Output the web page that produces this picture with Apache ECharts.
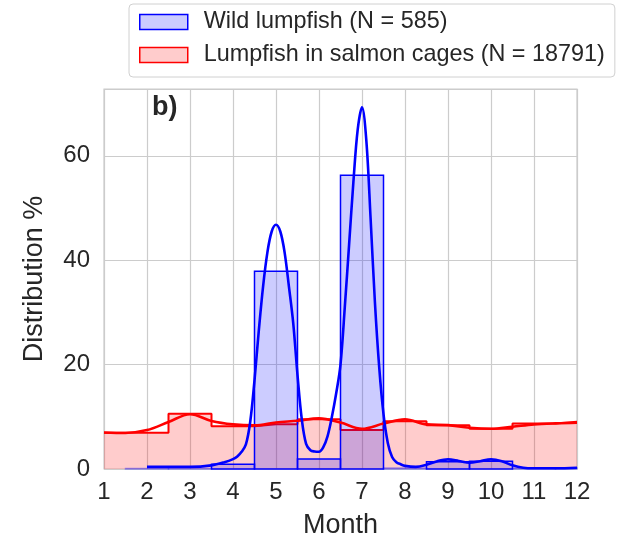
<!DOCTYPE html>
<html>
<head>
<meta charset="UTF-8">
<title>Lumpfish by month</title>
<script src="https://cdn.jsdelivr.net/npm/echarts@6/dist/echarts.min.js"></script>
<style>
  html, body { margin: 0; padding: 0; background: #fff; }
  #main { width: 633px; height: 542px; }
</style>
</head>
<body>
<div id="main"></div>
<script type="text/javascript">
// histogram bins (month, % of fish)
var wildBinMonths = [2, 3, 4, 5, 6, 7, 8, 9, 10, 11, 12];
var wildBinPct = [0.1, 0.1, 0.9, 37.9, 1.9, 56.3, 0.2, 1.4, 1.5, 0.2, 0.2];
var cageBinMonths = [1, 2, 3, 4, 5, 6, 7, 8, 9, 10, 11, 12];
var cageBinPct = [6.95, 6.95, 10.6, 8.2, 8.55, 9.55, 7.45, 9.15, 8.4, 7.7, 8.7, 9.05];

// kde curves
var wildKdeX = [2, 2.5, 3, 3.5, 3.8, 4, 4.1, 4.2, 4.3, 4.4, 4.5, 4.6, 4.7, 4.8, 4.9, 5, 5.1, 5.2, 5.3, 5.4, 5.5, 5.6, 5.7, 5.8, 5.9, 6,
  6.1, 6.2, 6.3, 6.4, 6.5, 6.6, 6.7, 6.8, 6.9, 7, 7.1, 7.2, 7.3, 7.4, 7.5, 7.6, 7.7, 7.8, 7.9, 8,
  8.25, 8.5, 8.75, 9, 9.25, 9.5, 9.75, 10, 10.25, 10.5, 10.75, 11, 11.5, 12];
var wildKdeY = [0.4, 0.4, 0.4, 0.7, 1.3, 1.9, 2.4, 3.3, 4.7, 9, 17, 26.5, 35, 41.5, 45.5, 46.8, 45.5, 41.5, 35, 28, 18, 9.5, 4.8, 3.6, 3.35, 3.3,
  4.2, 6.3, 10, 14.5, 20, 31, 43, 55, 65, 69.3, 63, 48, 32, 19.5, 10.5, 5, 2.3, 1.3, 0.9, 0.6,
  0.4, 0.8, 1.5, 1.85, 1.55, 1.2, 1.5, 1.85, 1.5, 0.7, 0.25, 0.15, 0.15, 0.25];
var cageKdeX = [1, 1.5, 2, 2.5, 3, 3.5, 4, 4.5, 5, 5.5, 6, 6.5, 7, 7.5, 8, 8.5, 9, 9.5, 10, 10.5, 11, 11.5, 12];
var cageKdeY = [7.0, 6.9, 7.45, 9.0, 10.5, 9.2, 8.55, 8.35, 8.9, 9.25, 9.7, 8.9, 7.7, 8.7, 9.5, 8.55, 8.4, 7.9, 7.7, 8.1, 8.55, 8.75, 8.85];

var yTicks = [0, 20, 40, 60];

var wildName = 'Wild lumpfish (N = 585)';
var cageName = 'Lumpfish in salmon cages (N = 18791)';
var font = "'Liberation Sans', Arial, sans-serif";

function pairs(xs, ys) {
  return xs.map(function (x, i) { return [x, ys[i]]; });
}

var chart = echarts.init(document.getElementById('main'));

var option = {
  animation: false,
  textStyle: { fontFamily: font },
  grid: {
    left: 104, top: 89, right: 56, bottom: 73,
    outerBoundsMode: 'none',
    show: true, borderColor: '#cccccc', borderWidth: 1.2
  },
  legend: {
    orient: 'vertical',
    left: 129, top: 4,
    padding: [5, 10, 9, 10],
    itemGap: 7,
    itemWidth: 48, itemHeight: 15,
    backgroundColor: '#fff',
    borderColor: '#d0d0d0', borderWidth: 1, borderRadius: 4,
    textStyle: { fontSize: 23.4, color: '#262626', fontFamily: font, lineHeight: 26, padding: [0, 0, 0, 11] },
    data: [
      { name: wildName, icon: 'rect', itemStyle: { color: 'rgba(0,0,255,0.2)', borderColor: '#0000ff', borderWidth: 1.5 } },
      { name: cageName, icon: 'rect', itemStyle: { color: 'rgba(255,0,0,0.2)', borderColor: '#ff0000', borderWidth: 1.5 } }
    ]
  },
  xAxis: {
    type: 'value', min: 1, max: 12, interval: 1,
    name: 'Month', nameLocation: 'middle', nameGap: 43,
    nameTextStyle: { fontSize: 27, color: '#262626', fontFamily: font },
    axisLine: { show: false }, axisTick: { show: false },
    axisLabel: { fontSize: 24, color: '#262626', margin: 11, fontFamily: font },
    splitLine: { show: true, lineStyle: { color: '#cccccc', width: 1.2 } }
  },
  yAxis: {
    type: 'value', min: 0, max: 72.8, interval: 20,
    name: 'Distribution %', nameLocation: 'middle', nameGap: 56,
    nameTextStyle: { fontSize: 27, color: '#262626', fontFamily: font },
    axisLine: { show: false }, axisTick: { show: false },
    axisLabel: {
      fontSize: 24, color: '#262626', margin: 14, fontFamily: font, showMaxLabel: false,
      formatter: function (v) { return yTicks.indexOf(v) >= 0 ? String(v) : ''; }
    },
    splitLine: { show: true, lineStyle: { color: '#cccccc', width: 1.2 } }
  },
  graphic: [{
    type: 'text', left: 152, top: 94,
    style: { text: 'b)', font: 'bold 27px ' + font, fill: '#262626' }
  }],
  series: [
    {
      name: cageName,
      type: 'line',
      step: 'middle',
      z: 1,
      symbol: 'none',
      data: pairs(cageBinMonths, cageBinPct),
      itemStyle: { color: 'rgba(255,0,0,0.2)' },
      lineStyle: { color: '#ff0000', width: 2 },
      areaStyle: { color: 'rgba(255,0,0,0.2)', opacity: 1 }
    },
    {
      name: wildName,
      type: 'custom',
      z: 2,
      itemStyle: { color: 'rgba(0,0,255,0.2)' },
      data: pairs(wildBinMonths, wildBinPct),
      renderItem: function (params, api) {
        var m = api.value(0), v = api.value(1);
        var p0 = api.coord([m - 0.5, v]);
        var p1 = api.coord([m + 0.5, 0]);
        var shape = echarts.graphic.clipRectByRect(
          { x: p0[0], y: p0[1], width: p1[0] - p0[0], height: p1[1] - p0[1] },
          { x: params.coordSys.x, y: params.coordSys.y, width: params.coordSys.width, height: params.coordSys.height }
        );
        return shape && {
          type: 'rect', shape: shape,
          style: { fill: 'rgba(0,0,255,0.2)', stroke: v < 0.5 ? 'rgba(0,0,255,0.35)' : '#0000ff', lineWidth: 1.5 }
        };
      }
    },
    {
      name: 'cage kde',
      type: 'line',
      z: 3,
      smooth: 0.35,
      symbol: 'none',
      data: pairs(cageKdeX, cageKdeY),
      lineStyle: { color: '#ff0000', width: 2.6 }
    },
    {
      name: 'wild kde',
      type: 'line',
      z: 4,
      smooth: 0.35,
      symbol: 'none',
      data: pairs(wildKdeX, wildKdeY),
      lineStyle: { color: '#0000ff', width: 2.6 }
    }
  ]
};

chart.setOption(option);
</script>
</body>
</html>
